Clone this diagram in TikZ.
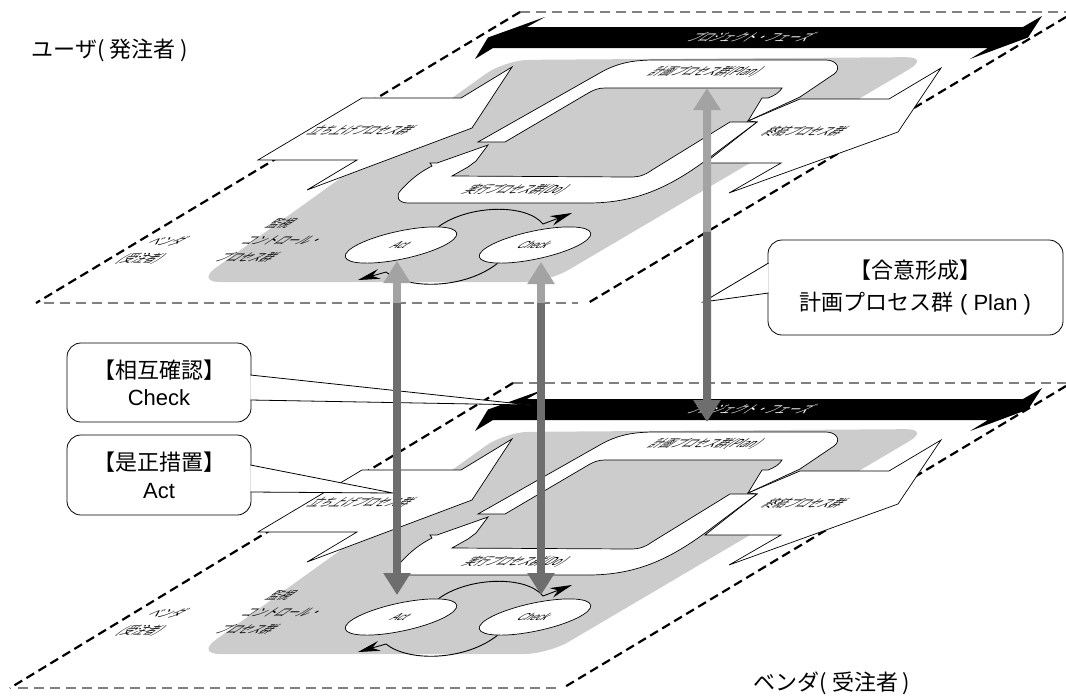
\documentclass[tikz,border=0pt]{standalone}
\usepackage{fontspec}
\setmainfont{Liberation Sans}
\newfontfamily\jp{Noto Sans CJK JP}
\usetikzlibrary{arrows.meta,calc,shapes.geometric}

\definecolor{fieldgray}{gray}{0.8}
\definecolor{lgray}{gray}{0.64}
\definecolor{dgray}{gray}{0.43}
\definecolor{edgegray}{gray}{0.5}

\tikzset{
  plane/.pic={
    % Gray field
    \fill[fieldgray,rounded corners=24pt] (372,282) -- (196,282) -- (505,60) -- (930,57) -- (548,282) -- cycle;
    % Phase band
    \fill (527,27) -- (1023,27) -- (1042,16) -- (1028,37.5) -- (970,59) -- (988,48) -- (493,48) -- (475,59) -- (488,37.5) -- (545,17) -- cycle;
    \node[slnt,text=white] (-phase) at (752,37.5) {プロジェクト・フェーズ};
    % Initiating and closing
    \filldraw[patch] (258,160) -- (362,98) -- (461,98) -- (512,67) -- (472,128) -- (307,190) -- (357,160) -- cycle;
    \filldraw[patch] (941,68) -- (889,99) -- (800,99) -- (748,121) -- (757,122) -- (705,163) -- (781,163) -- (729,193) -- (898,132) -- cycle;
    % Plan / Do loop
    \filldraw[patch] (478,142) -- (598,74) .. controls (615,64) and (630,60) .. (655,60) -- (826,60)
      .. controls (836,60) and (842,68) .. (834,74) -- (800,97) -- (748,121) -- (762,98) -- (768,98)
      .. controls (774,96) and (780,92) .. (782,88) -- (605,88) .. controls (598,88) and (594,90) .. (590,92) -- (505,142) -- cycle;
    \filldraw[patch] (730,122) -- (757,122) -- (705,161) .. controls (668,188) and (635,203) .. (588,203) -- (408,203)
      .. controls (398,203) and (395,196) .. (401,190) .. controls (410,180) and (420,172) .. (432,166)
      -- (430,163) -- (437,163) -- (488,145) -- (476,161) -- (468,167) -- (452,176) -- (630,177)
      .. controls (640,177) and (645,175) .. (652,170) -- cycle;
    \node[slnt] (-plan) at (706,72) {計画プロセス群(Plan)};
    \node[slnt] (-do) at (516,190) {実行プロセス群(Do)};
    \node[slnt] (-init) at (362,130) {立ち上げプロセス群};
    \node[slnt] (-close) at (805,131) {終結プロセス群};
    \node[slnt,align=left] (-mon) at (284,240) {監視\\コントロール・\\プロセス群};
    \node[slnt,align=center] (-vend) at (154,250) {ベンダ\\(受注者)};
    % Act / Check cycle
    \node[pdca,rotate=12] (-act) at (401,245) {};
    \node[pdca,rotate=12] (-chk) at (535,245) {};
    \node[slnt,font=\fontsize{10}{12}\selectfont] (-actl) at (401,245) {Act};
    \node[slnt,font=\fontsize{10}{12}\selectfont] (-chkl) at (535,245) {Check};
    \draw[cyc] (-act.north east) .. controls (468,205) and (526,203) .. (543,224) -- (572,213);
    \draw[cyc] (-chk.south west) .. controls (465,289) and (408,290) .. (386,272) -- (358,280);
    % Arrow ends
    \coordinate (-actlo) at (397,261);
    \coordinate (-acthi) at (397,223);
    \coordinate (-chklo) at (541,262);
    \coordinate (-chkhi) at (541,223);
    \coordinate (-plnup) at (707,88);
    \coordinate (-plndn) at (707,50);
  }
}

\begin{document}
\begin{tikzpicture}[x=1pt,y=-1pt,
  edge/.style={line width=2.2pt,dash pattern=on 9pt off 5pt},
  rim/.style={line width=2.4pt,draw=edgegray,dash pattern=on 10pt off 6pt},
  patch/.style={draw,fill=white,line width=.7pt},
  slnt/.style={transform shape,xslant=1.5,inner sep=0,font=\jp\fontsize{11}{17}\selectfont},
  pdca/.style={ellipse,draw,fill=white,line width=.7pt,minimum width=114pt,minimum height=28pt,inner sep=0},
  cyc/.style={line width=.9pt,-{Stealth[length=22pt,width=10pt]}},
  lbar/.style={draw=lgray,line width=8pt,-{Triangle[width=26pt,length=22pt]}},
  dbar/.style={lbar,draw=dgray},
  callbox/.style={draw,fill=white,rounded corners=14pt,line width=.8pt,align=center,inner sep=0},
  big/.style={font=\jp\fontsize{22}{26}\selectfont,inner sep=0}]
  \useasboundingbox (0,0) rectangle (1066,697);

  % Plane outlines
  \coordinate (utl) at (520,12);
  \coordinate (utr) at (1066,17);
  \coordinate (ubr) at (588,303);
  \coordinate (ubl) at (36,303);
  \draw[rim] (utl) -- (1066,12);
  \draw[rim] (44,303) -- (578,303);
  \draw[edge] (utl) -- (ubl);
  \draw[edge] (utr) -- (ubr);
  \draw[rim] (513,383) -- (1066,383);
  \draw[rim] (18,688) -- (556,688);
  \draw[edge] (513,383) -- (10,688);
  \draw[edge] (1066,386) -- (563,688);

  % Process groups on both planes
  \pic (up) at (0,0) {plane};
  \pic (dn) at (0,372) {plane};

  % Callouts
  \coordinate (chkpt) at (530,405);
  \coordinate (actpt) at (393,493);
  \coordinate (plnpt) at (703,302);
  \node[callbox,minimum width=184pt,minimum height=79pt,font=\fontsize{22}{27}\selectfont] (cchk) at (159,382.5) {{\jp 【相互確認】}\\Check};
  \node[callbox,minimum width=184pt,minimum height=80pt,font=\fontsize{22}{28}\selectfont] (cact) at (159,475) {{\jp 【是正措置】}\\Act};
  \node[callbox,minimum width=295pt,minimum height=95pt,font=\fontsize{22}{32}\selectfont] (cpln) at (915.5,287.5) {{\jp 【合意形成】}\\{\jp 計画プロセス群} ( Plan )};
  \filldraw[fill=white,line width=.8pt] ([shift={(-1pt,7.5pt)}]cchk.east) -- (chkpt) -- ([shift={(-1pt,-17.5pt)}]cchk.east);
  \filldraw[fill=white,line width=.8pt] ([shift={(-1pt,10pt)}]cact.east) -- (actpt) -- ([shift={(-1pt,-17pt)}]cact.east);
  \filldraw[fill=white,line width=.8pt] ([shift={(1pt,24.5pt)}]cpln.west) -- (plnpt) -- ([shift={(1pt,-5.5pt)}]cpln.west);

  % Arrows between the planes
  \draw[lbar] (up-actlo |- ubl) -- (up-actlo);
  \draw[dbar] (up-actlo |- ubl) -- (dn-acthi);
  \draw[lbar] (up-chklo |- ubl) -- (up-chklo);
  \draw[dbar] (up-chklo |- ubl) -- (dn-chkhi);
  \draw[lbar] (intersection of up-plnup--dn-plndn and utr--ubr) -- (up-plnup);
  \draw[dbar] (intersection of up-plnup--dn-plndn and utr--ubr) -- (dn-plndn);

  % Parties
  \node[big] (user) at (110,50) {ユーザ( 発注者 )};
  \node[big] (vendor) at (832,683) {ベンダ( 受注者 )};
\end{tikzpicture}
\end{document}
